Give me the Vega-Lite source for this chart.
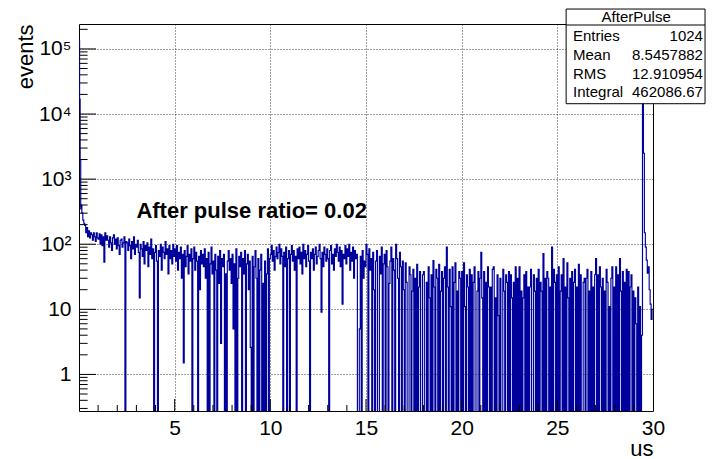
{
"$schema":"https://vega.github.io/schema/vega-lite/v6.json",
"width":574,"height":387,
"autosize":{"type":"none"},
"padding":{"left":79,"top":24,"right":67,"bottom":48},
"background":"white",
"config":{"view":{"stroke":"black","strokeWidth":1},"font":"Liberation Sans"},
"datasets":{
"h":[
{"x":0,"y":135000},{"x":0.03,"y":17000},{"x":0.06,"y":2000},{"x":0.09,"y":350},{"x":0.12,"y":400},{"x":0.15,"y":300},{"x":0.2,"y":235},{"x":0.25,"y":210},{"x":0.3,"y":195},{"x":0.35,"y":150},{"x":0.4,"y":180},{"x":0.45,"y":130},{"x":0.5,"y":160},{"x":0.55,"y":125},{"x":0.6,"y":150},{"x":0.65,"y":140},{"x":0.7,"y":115},{"x":0.75,"y":150},{"x":0.8,"y":130},{"x":0.85,"y":110},{"x":0.9,"y":150},{"x":0.95,"y":125},
{"x":1.0,"y":120},{"x":1.05,"y":145},{"x":1.1,"y":100},{"x":1.15,"y":140},{"x":1.2,"y":95},{"x":1.25,"y":130},{"x":1.3,"y":53},{"x":1.35,"y":150},{"x":1.4,"y":115},{"x":1.45,"y":135},
{"x":1.5,"y":115},{"x":1.55,"y":90},{"x":1.6,"y":130},{"x":1.65,"y":105},{"x":1.7,"y":80},{"x":1.75,"y":125},{"x":1.8,"y":140},{"x":1.85,"y":100},{"x":1.9,"y":120},{"x":1.95,"y":85},
{"x":2.0,"y":125},{"x":2.05,"y":95},{"x":2.1,"y":70},{"x":2.15,"y":115},{"x":2.2,"y":120},{"x":2.25,"y":90},{"x":2.3,"y":105},{"x":2.35,"y":130},{"x":2.4,"y":0.01},{"x":2.45,"y":110},
{"x":2.5,"y":105},{"x":2.55,"y":80},{"x":2.6,"y":120},{"x":2.65,"y":95},{"x":2.7,"y":60},{"x":2.75,"y":110},{"x":2.8,"y":85},{"x":2.85,"y":130},{"x":2.9,"y":70},{"x":2.95,"y":100},
{"x":3.0,"y":90},{"x":3.05,"y":115},{"x":3.1,"y":75},{"x":3.15,"y":15},{"x":3.2,"y":100},{"x":3.25,"y":85},{"x":3.3,"y":65},{"x":3.35,"y":110},{"x":3.4,"y":50},{"x":3.45,"y":95},
{"x":3.5,"y":80},{"x":3.55,"y":105},{"x":3.6,"y":45},{"x":3.65,"y":90},{"x":3.7,"y":70},{"x":3.75,"y":120},{"x":3.8,"y":60},{"x":3.85,"y":85},{"x":3.9,"y":0.01},{"x":3.95,"y":75},
{"x":4.0,"y":95},{"x":4.05,"y":55},{"x":4.1,"y":0.01},{"x":4.15,"y":80},{"x":4.2,"y":65},{"x":4.25,"y":100},{"x":4.3,"y":40},{"x":4.35,"y":90},{"x":4.4,"y":75},{"x":4.45,"y":60},
{"x":4.5,"y":110},{"x":4.55,"y":70},{"x":4.6,"y":85},{"x":4.65,"y":35},{"x":4.7,"y":95},{"x":4.75,"y":60},{"x":4.8,"y":80},{"x":4.85,"y":50},{"x":4.9,"y":100},{"x":4.95,"y":65},
{"x":5.0,"y":85},{"x":5.05,"y":55},{"x":5.1,"y":95},{"x":5.15,"y":40},{"x":5.2,"y":75},{"x":5.25,"y":60},{"x":5.3,"y":90},{"x":5.35,"y":30},{"x":5.4,"y":70},{"x":5.45,"y":1.5},
{"x":5.5,"y":80},{"x":5.55,"y":45},{"x":5.6,"y":65},{"x":5.65,"y":95},{"x":5.7,"y":35},{"x":5.75,"y":70},{"x":5.8,"y":55},{"x":5.85,"y":85},{"x":5.9,"y":0.01},{"x":5.95,"y":60},
{"x":6.0,"y":90},{"x":6.05,"y":40},{"x":6.1,"y":75},{"x":6.15,"y":55},{"x":6.2,"y":0.01},{"x":6.25,"y":65},{"x":6.3,"y":20},{"x":6.35,"y":80},{"x":6.4,"y":50},{"x":6.45,"y":70},
{"x":6.5,"y":45},{"x":6.55,"y":85},{"x":6.6,"y":30},{"x":6.65,"y":60},{"x":6.7,"y":0.01},{"x":6.75,"y":75},{"x":6.8,"y":0.01},{"x":6.85,"y":50},{"x":6.9,"y":90},{"x":6.95,"y":35},
{"x":7.0,"y":55},{"x":7.05,"y":0.01},{"x":7.1,"y":70},{"x":7.15,"y":40},{"x":7.2,"y":0.01},{"x":7.25,"y":65},{"x":7.3,"y":25},{"x":7.35,"y":80},{"x":7.4,"y":3},{"x":7.45,"y":60},
{"x":7.5,"y":45},{"x":7.55,"y":70},{"x":7.6,"y":0.01},{"x":7.65,"y":35},{"x":7.7,"y":0.01},{"x":7.75,"y":55},{"x":7.8,"y":80},{"x":7.85,"y":40},{"x":7.9,"y":60},{"x":7.95,"y":25},
{"x":8.0,"y":70},{"x":8.05,"y":5},{"x":8.1,"y":50},{"x":8.15,"y":0.01},{"x":8.2,"y":85},{"x":8.25,"y":0.01},{"x":8.3,"y":30},{"x":8.35,"y":65},{"x":8.4,"y":45},{"x":8.45,"y":75},
{"x":8.5,"y":0.01},{"x":8.55,"y":60},{"x":8.6,"y":35},{"x":8.65,"y":80},{"x":8.7,"y":0.01},{"x":8.75,"y":50},{"x":8.8,"y":70},{"x":8.85,"y":20},{"x":8.9,"y":55},{"x":8.95,"y":2.6},
{"x":9.0,"y":0.01},{"x":9.05,"y":65},{"x":9.1,"y":0.01},{"x":9.15,"y":45},{"x":9.2,"y":80},{"x":9.25,"y":30},{"x":9.3,"y":0.01},{"x":9.35,"y":60},{"x":9.4,"y":0.01},{"x":9.45,"y":40},
{"x":9.5,"y":70},{"x":9.55,"y":0.01},{"x":9.6,"y":25},{"x":9.65,"y":0.01},{"x":9.7,"y":55},{"x":9.75,"y":0.01},{"x":9.8,"y":35},{"x":9.85,"y":85},{"x":9.9,"y":0.01},{"x":9.95,"y":60},
{"x":10.0,"y":70},{"x":10.05,"y":95},{"x":10.1,"y":55},{"x":10.15,"y":80},{"x":10.2,"y":40},{"x":10.25,"y":65},{"x":10.3,"y":90},{"x":10.35,"y":60},{"x":10.4,"y":75},{"x":10.45,"y":100},
{"x":10.5,"y":50},{"x":10.55,"y":85},{"x":10.6,"y":65},{"x":10.65,"y":0.01},{"x":10.7,"y":75},{"x":10.75,"y":45},{"x":10.8,"y":90},{"x":10.85,"y":0.01},{"x":10.9,"y":60},{"x":10.95,"y":80},
{"x":11.0,"y":0.01},{"x":11.05,"y":70},{"x":11.1,"y":95},{"x":11.15,"y":55},{"x":11.2,"y":80},{"x":11.25,"y":40},{"x":11.3,"y":65},{"x":11.35,"y":0.01},{"x":11.4,"y":85},{"x":11.45,"y":60},
{"x":11.5,"y":90},{"x":11.55,"y":50},{"x":11.6,"y":75},{"x":11.65,"y":35},{"x":11.7,"y":100},{"x":11.75,"y":60},{"x":11.8,"y":80},{"x":11.85,"y":45},{"x":11.9,"y":70},{"x":11.95,"y":95},
{"x":12.0,"y":55},{"x":12.05,"y":0.01},{"x":12.1,"y":75},{"x":12.15,"y":60},{"x":12.2,"y":85},{"x":12.25,"y":40},{"x":12.3,"y":70},{"x":12.35,"y":90},{"x":12.4,"y":50},{"x":12.45,"y":65},
{"x":12.5,"y":80},{"x":12.55,"y":100},{"x":12.6,"y":60},{"x":12.65,"y":9},{"x":12.7,"y":75},{"x":12.75,"y":45},{"x":12.8,"y":90},{"x":12.85,"y":70},{"x":12.9,"y":55},{"x":12.95,"y":85},
{"x":13.0,"y":60},{"x":13.05,"y":0.01},{"x":13.1,"y":80},{"x":13.15,"y":95},{"x":13.2,"y":50},{"x":13.25,"y":70},{"x":13.3,"y":40},{"x":13.35,"y":85},{"x":13.4,"y":65},{"x":13.45,"y":100},
{"x":13.5,"y":75},{"x":13.55,"y":55},{"x":13.6,"y":90},{"x":13.65,"y":45},{"x":13.7,"y":80},{"x":13.75,"y":12},{"x":13.8,"y":70},{"x":13.85,"y":60},{"x":13.9,"y":95},{"x":13.95,"y":50},
{"x":14.0,"y":85},{"x":14.05,"y":65},{"x":14.1,"y":100},{"x":14.15,"y":40},{"x":14.2,"y":75},{"x":14.25,"y":55},{"x":14.3,"y":90},{"x":14.35,"y":30},{"x":14.4,"y":80},{"x":14.45,"y":60},
{"x":14.5,"y":70},{"x":14.55,"y":0.01},{"x":14.6,"y":0.01},{"x":14.65,"y":5},{"x":14.7,"y":65},{"x":14.75,"y":0.01},{"x":14.8,"y":80},{"x":14.85,"y":30},{"x":14.9,"y":55},{"x":14.95,"y":45},
{"x":15.0,"y":100},{"x":15.05,"y":70},{"x":15.1,"y":0.01},{"x":15.15,"y":85},{"x":15.2,"y":40},{"x":15.25,"y":60},{"x":15.3,"y":0.01},{"x":15.35,"y":75},{"x":15.4,"y":20},{"x":15.45,"y":0.01},
{"x":15.5,"y":55},{"x":15.55,"y":80},{"x":15.6,"y":0.01},{"x":15.65,"y":0.01},{"x":15.7,"y":65},{"x":15.75,"y":35},{"x":15.8,"y":90},{"x":15.85,"y":0.01},{"x":15.9,"y":50},{"x":15.95,"y":70},
{"x":16.0,"y":0.01},{"x":16.05,"y":80},{"x":16.1,"y":45},{"x":16.15,"y":0.01},{"x":16.2,"y":25},{"x":16.25,"y":55},{"x":16.3,"y":90},{"x":16.35,"y":0.01},{"x":16.4,"y":60},{"x":16.45,"y":40},
{"x":16.5,"y":0.01},{"x":16.55,"y":100},{"x":16.6,"y":60},{"x":16.65,"y":30},{"x":16.7,"y":0.01},{"x":16.75,"y":75},{"x":16.8,"y":45},{"x":16.85,"y":0.01},{"x":16.9,"y":55},{"x":16.95,"y":20},
{"x":17.0,"y":0.01},{"x":17.05,"y":52},{"x":17.1,"y":26},{"x":17.15,"y":0.01},{"x":17.2,"y":0.01},{"x":17.25,"y":45},{"x":17.3,"y":34},{"x":17.35,"y":0.01},{"x":17.4,"y":19},{"x":17.45,"y":41},
{"x":17.5,"y":0.01},{"x":17.55,"y":30},{"x":17.6,"y":0.01},{"x":17.65,"y":49},{"x":17.7,"y":0.01},{"x":17.75,"y":22},{"x":17.8,"y":38},{"x":17.85,"y":0.01},{"x":17.9,"y":0.01},{"x":17.95,"y":34},
{"x":18.0,"y":38},{"x":18.05,"y":0.01},{"x":18.1,"y":0.01},{"x":18.15,"y":26},{"x":18.2,"y":0.01},{"x":18.25,"y":45},{"x":18.3,"y":15},{"x":18.35,"y":0.01},{"x":18.4,"y":34},{"x":18.45,"y":0.01},
{"x":18.5,"y":56},{"x":18.55,"y":22},{"x":18.6,"y":0.01},{"x":18.65,"y":41},{"x":18.7,"y":30},{"x":18.75,"y":0.01},{"x":18.8,"y":49},{"x":18.85,"y":0.01},{"x":18.9,"y":19},{"x":18.95,"y":38},
{"x":19.0,"y":0.01},{"x":19.05,"y":30},{"x":19.1,"y":45},{"x":19.15,"y":0.01},{"x":19.2,"y":90},{"x":19.25,"y":22},{"x":19.3,"y":0.01},{"x":19.35,"y":41},{"x":19.4,"y":11},{"x":19.45,"y":0.01},
{"x":19.5,"y":45},{"x":19.55,"y":0.01},{"x":19.6,"y":26},{"x":19.65,"y":52},{"x":19.7,"y":0.01},{"x":19.75,"y":19},{"x":19.8,"y":0.01},{"x":19.85,"y":38},{"x":19.9,"y":30},{"x":19.95,"y":0.01},
{"x":20.0,"y":38},{"x":20.05,"y":0.01},{"x":20.1,"y":52},{"x":20.15,"y":11},{"x":20.2,"y":0.01},{"x":20.25,"y":34},{"x":20.3,"y":22},{"x":20.35,"y":0.01},{"x":20.4,"y":41},{"x":20.45,"y":0.01},
{"x":20.5,"y":34},{"x":20.55,"y":0.01},{"x":20.6,"y":26},{"x":20.65,"y":45},{"x":20.7,"y":0.01},{"x":20.75,"y":0.01},{"x":20.8,"y":19},{"x":20.85,"y":38},{"x":20.9,"y":0.01},{"x":20.95,"y":30},
{"x":21.0,"y":75},{"x":21.05,"y":15},{"x":21.1,"y":0.01},{"x":21.15,"y":38},{"x":21.2,"y":0.01},{"x":21.25,"y":26},{"x":21.3,"y":0.01},{"x":21.35,"y":45},{"x":21.4,"y":22},{"x":21.45,"y":0.01},
{"x":21.5,"y":22},{"x":21.55,"y":0.01},{"x":21.6,"y":41},{"x":21.65,"y":45},{"x":21.7,"y":0.01},{"x":21.75,"y":15},{"x":21.8,"y":0.01},{"x":21.85,"y":34},{"x":21.9,"y":8},{"x":21.95,"y":0.01},
{"x":22.0,"y":30},{"x":22.05,"y":0.01},{"x":22.1,"y":0.01},{"x":22.15,"y":41},{"x":22.2,"y":19},{"x":22.25,"y":0.01},{"x":22.3,"y":34},{"x":22.35,"y":26},{"x":22.4,"y":0.01},{"x":22.45,"y":38},
{"x":22.5,"y":0.01},{"x":22.55,"y":34},{"x":22.6,"y":15},{"x":22.65,"y":0.01},{"x":22.7,"y":26},{"x":22.75,"y":0.01},{"x":22.8,"y":45},{"x":22.85,"y":0.01},{"x":22.9,"y":30},{"x":22.95,"y":0.01},
{"x":23.0,"y":45},{"x":23.05,"y":0.01},{"x":23.1,"y":19},{"x":23.15,"y":0.01},{"x":23.2,"y":15},{"x":23.25,"y":34},{"x":23.3,"y":0.01},{"x":23.35,"y":38},{"x":23.4,"y":0.01},{"x":23.45,"y":22},
{"x":23.5,"y":0.01},{"x":23.55,"y":22},{"x":23.6,"y":41},{"x":23.65,"y":0.01},{"x":23.7,"y":0.01},{"x":23.75,"y":34},{"x":23.8,"y":19},{"x":23.85,"y":0.01},{"x":23.9,"y":30},{"x":23.95,"y":0.01},
{"x":24.0,"y":41},{"x":24.05,"y":0.01},{"x":24.1,"y":26},{"x":24.15,"y":19},{"x":24.2,"y":0.01},{"x":24.25,"y":72},{"x":24.3,"y":0.01},{"x":24.35,"y":30},{"x":24.4,"y":0.01},{"x":24.45,"y":38},
{"x":24.5,"y":30},{"x":24.55,"y":0.01},{"x":24.6,"y":22},{"x":24.65,"y":0.01},{"x":24.7,"y":90},{"x":24.75,"y":0.01},{"x":24.8,"y":41},{"x":24.85,"y":26},{"x":24.9,"y":0.01},{"x":24.95,"y":34},
{"x":25.0,"y":0.01},{"x":25.05,"y":45},{"x":25.1,"y":0.01},{"x":25.15,"y":19},{"x":25.2,"y":34},{"x":25.25,"y":0.01},{"x":25.3,"y":60},{"x":25.35,"y":0.01},{"x":25.4,"y":22},{"x":25.45,"y":0.01},
{"x":25.5,"y":52},{"x":25.55,"y":15},{"x":25.6,"y":0.01},{"x":25.65,"y":30},{"x":25.7,"y":0.01},{"x":25.75,"y":38},{"x":25.8,"y":0.01},{"x":25.85,"y":26},{"x":25.9,"y":41},{"x":25.95,"y":0.01},
{"x":26.0,"y":22},{"x":26.05,"y":0.01},{"x":26.1,"y":49},{"x":26.15,"y":0.01},{"x":26.2,"y":34},{"x":26.25,"y":0.01},{"x":26.3,"y":0.01},{"x":26.35,"y":26},{"x":26.4,"y":30},{"x":26.45,"y":0.01},
{"x":26.5,"y":30},{"x":26.55,"y":41},{"x":26.6,"y":0.01},{"x":26.65,"y":19},{"x":26.7,"y":0.01},{"x":26.75,"y":38},{"x":26.8,"y":0.01},{"x":26.85,"y":22},{"x":26.9,"y":0.01},{"x":26.95,"y":34},
{"x":27.0,"y":60},{"x":27.05,"y":0.01},{"x":27.1,"y":34},{"x":27.15,"y":0.01},{"x":27.2,"y":45},{"x":27.25,"y":22},{"x":27.3,"y":0.01},{"x":27.35,"y":30},{"x":27.4,"y":0.01},{"x":27.45,"y":19},
{"x":27.5,"y":0.01},{"x":27.55,"y":41},{"x":27.6,"y":26},{"x":27.65,"y":0.01},{"x":27.7,"y":11},{"x":27.75,"y":0.01},{"x":27.8,"y":30},{"x":27.85,"y":45},{"x":27.9,"y":0.01},{"x":27.95,"y":22},
{"x":28.0,"y":0.01},{"x":28.05,"y":45},{"x":28.1,"y":0.01},{"x":28.15,"y":34},{"x":28.2,"y":0.01},{"x":28.25,"y":60},{"x":28.3,"y":19},{"x":28.35,"y":0.01},{"x":28.4,"y":38},{"x":28.45,"y":0.01},
{"x":28.5,"y":26},{"x":28.55,"y":0.01},{"x":28.6,"y":41},{"x":28.65,"y":0.01},{"x":28.7,"y":38},{"x":28.75,"y":0.01},{"x":28.8,"y":22},{"x":28.85,"y":34},{"x":28.9,"y":0.01},{"x":28.95,"y":19},
{"x":29.0,"y":0.01},{"x":29.05,"y":15},{"x":29.1,"y":6},{"x":29.15,"y":0.01},{"x":29.2,"y":22},{"x":29.25,"y":0.01},{"x":29.3,"y":11},{"x":29.35,"y":0.01},{"x":29.4,"y":4},
{"x":29.45,"y":140000},{"x":29.5,"y":2500},{"x":29.55,"y":150},{"x":29.6,"y":90},{"x":29.65,"y":57},{"x":29.7,"y":36},{"x":29.75,"y":45},{"x":29.8,"y":20},{"x":29.85,"y":12},{"x":29.9,"y":7},{"x":29.95,"y":10},{"x":30,"y":10}
],
"yminor":[{"v":0.3},{"v":0.4},{"v":0.5},{"v":0.6},{"v":0.7},{"v":0.8},{"v":0.9},{"v":2},{"v":3},{"v":4},{"v":5},{"v":6},{"v":7},{"v":8},{"v":9},{"v":20},{"v":30},{"v":40},{"v":50},{"v":60},{"v":70},{"v":80},{"v":90},{"v":200},{"v":300},{"v":400},{"v":500},{"v":600},{"v":700},{"v":800},{"v":900},{"v":2000},{"v":3000},{"v":4000},{"v":5000},{"v":6000},{"v":7000},{"v":8000},{"v":9000},{"v":20000},{"v":30000},{"v":40000},{"v":50000},{"v":60000},{"v":70000},{"v":80000},{"v":90000},{"v":200000}],
"ymajor":[{"v":1},{"v":10},{"v":100},{"v":1000},{"v":10000},{"v":100000}],
"xminor":[{"v":1},{"v":2},{"v":3},{"v":4},{"v":6},{"v":7},{"v":8},{"v":9},{"v":11},{"v":12},{"v":13},{"v":14},{"v":16},{"v":17},{"v":18},{"v":19},{"v":21},{"v":22},{"v":23},{"v":24},{"v":26},{"v":27},{"v":28},{"v":29}],
"xmajor":[{"v":5},{"v":10},{"v":15},{"v":20},{"v":25}],
"one":[{}]
},
"layer":[
{"data":{"name":"h"},
 "mark":{"type":"line","interpolate":"step-after","color":"#00009c","strokeWidth":1.15,"clip":true},
 "encoding":{
  "x":{"field":"x","type":"quantitative","title":"us","scale":{"domain":[0,30],"nice":false,"zero":false},
   "axis":{"values":[5,10,15,20,25,30],"domain":false,"tickSize":-12,"tickOpacity":0,"labelFlush":false,"labelPadding":18,"labelFontSize":21,"labelColor":"black","labelFont":"Liberation Sans","grid":true,"gridDash":[1,2],"gridColor":"black","gridOpacity":0.75,"titleFontSize":22,"titleFontWeight":"normal","titleColor":"black","titleAnchor":"end","titleAlign":"right","titleX":574,"titleY":44,"titleBaseline":"alphabetic"}},
  "y":{"field":"y","type":"quantitative","title":"events","scale":{"type":"log","domain":[0.2741,241500],"nice":false},
   "axis":{"values":[1,10,100,1000,10000,100000],"labelExpr":"datum.value==1?'1':datum.value==10?'10':datum.value==100?'10²':datum.value==1000?'10³':datum.value==10000?'10⁴':'10⁵'","domain":false,"tickSize":-17,"tickOpacity":0,"labelFlush":false,"labelPadding":25,"labelFontSize":21,"labelColor":"black","labelFont":"Liberation Sans","grid":true,"gridDash":[1,2],"gridColor":"black","gridOpacity":0.75,"titleFontSize":22,"titleFontWeight":"normal","titleColor":"black","titleAngle":-90,"titleAlign":"right","titleBaseline":"alphabetic","titleX":-47,"titleY":0}}
 }},
{"data":{"name":"yminor"},"mark":{"type":"rule","color":"black","strokeWidth":1},
 "encoding":{"y":{"field":"v","type":"quantitative","title":"events","scale":{"type":"log","domain":[0.2741,241500],"nice":false}},
  "x":{"datum":0,"type":"quantitative","title":"us","scale":{"domain":[0,30],"nice":false,"zero":false}},
  "x2":{"datum":0.45}}},
{"data":{"name":"ymajor"},"mark":{"type":"rule","color":"black","strokeWidth":1},
 "encoding":{"y":{"field":"v","type":"quantitative","title":"events","scale":{"type":"log","domain":[0.2741,241500],"nice":false}},
  "x":{"datum":0,"type":"quantitative","title":"us","scale":{"domain":[0,30],"nice":false,"zero":false}},
  "x2":{"datum":0.89}}},
{"data":{"name":"xminor"},"mark":{"type":"rule","color":"black","strokeWidth":1,"clip":true},
 "encoding":{"x":{"field":"v","type":"quantitative","title":"us","scale":{"domain":[0,30],"nice":false,"zero":false}},
  "y":{"datum":0.001,"type":"quantitative","title":"events","scale":{"type":"log","domain":[0.2741,241500],"nice":false}},
  "y2":{"datum":0.339}}},
{"data":{"name":"xmajor"},"mark":{"type":"rule","color":"black","strokeWidth":1,"clip":true},
 "encoding":{"x":{"field":"v","type":"quantitative","title":"us","scale":{"domain":[0,30],"nice":false,"zero":false}},
  "y":{"datum":0.001,"type":"quantitative","title":"events","scale":{"type":"log","domain":[0.2741,241500],"nice":false}},
  "y2":{"datum":0.419}}},
{"data":{"name":"one"},"mark":{"type":"text","font":"Liberation Sans","fontWeight":"bold","fontSize":22,"align":"left","baseline":"alphabetic","color":"black"},
 "encoding":{"x":{"datum":3.0,"type":"quantitative","title":"us","scale":{"domain":[0,30],"nice":false,"zero":false}},
  "y":{"datum":250,"type":"quantitative","title":"events","scale":{"type":"log","domain":[0.2741,241500],"nice":false}},
  "text":{"value":"After pulse ratio= 0.02"}}},
{"data":{"name":"one"},"mark":{"type":"rect","fill":"white","stroke":"black","strokeWidth":1},
 "encoding":{"x":{"datum":25.46,"type":"quantitative","title":"us","scale":{"domain":[0,30],"nice":false,"zero":false}},"x2":{"datum":32.72},
  "y":{"datum":410000,"type":"quantitative","title":"events","scale":{"type":"log","domain":[0.2741,241500],"nice":false}},"y2":{"datum":14400}}},
{"data":{"name":"one"},"mark":{"type":"rule","color":"black","strokeWidth":1},
 "encoding":{"x":{"datum":25.46,"type":"quantitative","title":"us","scale":{"domain":[0,30],"nice":false,"zero":false}},"x2":{"datum":32.72},
  "y":{"datum":233000,"type":"quantitative","title":"events","scale":{"type":"log","domain":[0.2741,241500],"nice":false}}}},
{"data":{"name":"one"},"mark":{"type":"text","font":"Liberation Sans","fontSize":15,"align":"center","baseline":"alphabetic","color":"black"},
 "encoding":{"x":{"datum":29.12,"type":"quantitative","title":"us","scale":{"domain":[0,30],"nice":false,"zero":false}},
  "y":{"datum":259000,"type":"quantitative","title":"events","scale":{"type":"log","domain":[0.2741,241500],"nice":false}},"text":{"value":"AfterPulse"}}},
{"data":{"name":"one"},"mark":{"type":"text","font":"Liberation Sans","fontSize":15,"align":"left","baseline":"alphabetic","color":"black"},
 "encoding":{"x":{"datum":25.82,"type":"quantitative","title":"us","scale":{"domain":[0,30],"nice":false,"zero":false}},
  "y":{"datum":132600,"type":"quantitative","title":"events","scale":{"type":"log","domain":[0.2741,241500],"nice":false}},"text":{"value":"Entries"}}},
{"data":{"name":"one"},"mark":{"type":"text","font":"Liberation Sans","fontSize":15,"align":"left","baseline":"alphabetic","color":"black"},
 "encoding":{"x":{"datum":25.82,"type":"quantitative","title":"us","scale":{"domain":[0,30],"nice":false,"zero":false}},
  "y":{"datum":67800,"type":"quantitative","title":"events","scale":{"type":"log","domain":[0.2741,241500],"nice":false}},"text":{"value":"Mean"}}},
{"data":{"name":"one"},"mark":{"type":"text","font":"Liberation Sans","fontSize":15,"align":"left","baseline":"alphabetic","color":"black"},
 "encoding":{"x":{"datum":25.82,"type":"quantitative","title":"us","scale":{"domain":[0,30],"nice":false,"zero":false}},
  "y":{"datum":34700,"type":"quantitative","title":"events","scale":{"type":"log","domain":[0.2741,241500],"nice":false}},"text":{"value":"RMS"}}},
{"data":{"name":"one"},"mark":{"type":"text","font":"Liberation Sans","fontSize":15,"align":"left","baseline":"alphabetic","color":"black"},
 "encoding":{"x":{"datum":25.82,"type":"quantitative","title":"us","scale":{"domain":[0,30],"nice":false,"zero":false}},
  "y":{"datum":18400,"type":"quantitative","title":"events","scale":{"type":"log","domain":[0.2741,241500],"nice":false}},"text":{"value":"Integral"}}},
{"data":{"name":"one"},"mark":{"type":"text","font":"Liberation Sans","fontSize":15,"align":"right","baseline":"alphabetic","color":"black"},
 "encoding":{"x":{"datum":32.61,"type":"quantitative","title":"us","scale":{"domain":[0,30],"nice":false,"zero":false}},
  "y":{"datum":132600,"type":"quantitative","title":"events","scale":{"type":"log","domain":[0.2741,241500],"nice":false}},"text":{"value":"1024"}}},
{"data":{"name":"one"},"mark":{"type":"text","font":"Liberation Sans","fontSize":15,"align":"right","baseline":"alphabetic","color":"black"},
 "encoding":{"x":{"datum":32.61,"type":"quantitative","title":"us","scale":{"domain":[0,30],"nice":false,"zero":false}},
  "y":{"datum":67800,"type":"quantitative","title":"events","scale":{"type":"log","domain":[0.2741,241500],"nice":false}},"text":{"value":"8.5457882"}}},
{"data":{"name":"one"},"mark":{"type":"text","font":"Liberation Sans","fontSize":15,"align":"right","baseline":"alphabetic","color":"black"},
 "encoding":{"x":{"datum":32.61,"type":"quantitative","title":"us","scale":{"domain":[0,30],"nice":false,"zero":false}},
  "y":{"datum":34700,"type":"quantitative","title":"events","scale":{"type":"log","domain":[0.2741,241500],"nice":false}},"text":{"value":"12.910954"}}},
{"data":{"name":"one"},"mark":{"type":"text","font":"Liberation Sans","fontSize":15,"align":"right","baseline":"alphabetic","color":"black"},
 "encoding":{"x":{"datum":32.61,"type":"quantitative","title":"us","scale":{"domain":[0,30],"nice":false,"zero":false}},
  "y":{"datum":18400,"type":"quantitative","title":"events","scale":{"type":"log","domain":[0.2741,241500],"nice":false}},"text":{"value":"462086.67"}}}
]
}
